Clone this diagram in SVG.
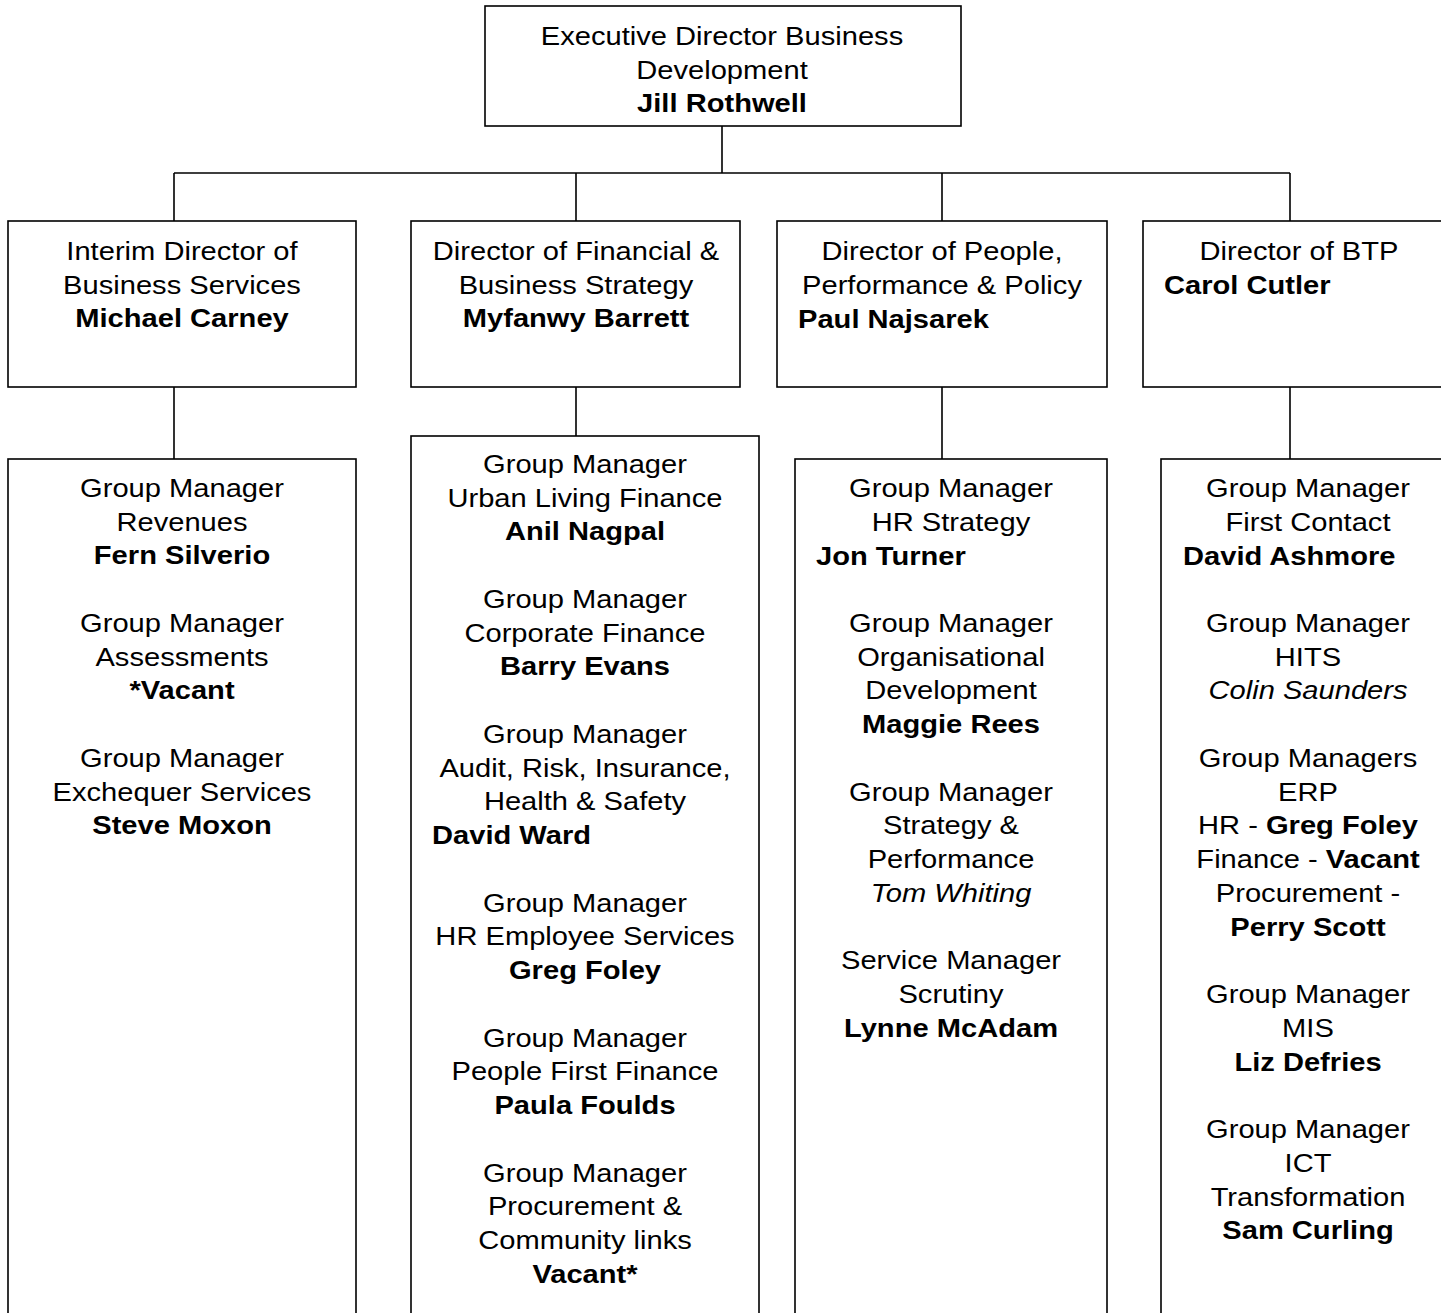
<svg xmlns="http://www.w3.org/2000/svg" width="1441" height="1313" viewBox="0 0 1441 1313">
<style>
.box{fill:#fff;stroke:#000;stroke-width:1.6}
.ln{fill:none;stroke:#000;stroke-width:1.6}
text{font-family:"Liberation Sans",Arial,sans-serif;font-size:26px;fill:#000}
.c{text-anchor:middle}
.b{font-weight:bold}
.i{font-style:italic}
</style>
<rect width="1441" height="1313" fill="#fff"/>
<g id="connectors">
<path class="ln" d="M722 126V173M174 173H1290M174 173V221M576 173V221M942 173V221M1290 173V221"/>
<path class="ln" d="M174 387V459M576 387V436M942 387V459M1290 387V459"/>
</g>
<g id="exec">
<rect class="box" x="485" y="6" width="476" height="120"/>
<text class="c" transform="translate(722 45) scale(1.12 1)"><tspan x="0">Executive Director Business</tspan><tspan x="0" dy="33.75">Development</tspan><tspan x="0" dy="33.75" class="b">Jill Rothwell</tspan></text>
</g>
<g id="dir-business-services">
<rect class="box" x="8" y="221" width="348" height="166"/>
<text class="c" transform="translate(182 260) scale(1.12 1)"><tspan x="0">Interim Director of</tspan><tspan x="0" dy="33.75">Business Services</tspan><tspan x="0" dy="33.75" class="b">Michael Carney</tspan></text>
</g>
<g id="dir-finance">
<rect class="box" x="411" y="221" width="329" height="166"/>
<text class="c" transform="translate(576 260) scale(1.12 1)"><tspan x="0">Director of Financial &amp;</tspan><tspan x="0" dy="33.75">Business Strategy</tspan><tspan x="0" dy="33.75" class="b">Myfanwy Barrett</tspan></text>
</g>
<g id="dir-people">
<rect class="box" x="777" y="221" width="330" height="166"/>
<text class="c" transform="translate(942 260) scale(1.12 1)"><tspan x="0">Director of People,</tspan><tspan x="0" dy="33.75">Performance &amp; Policy</tspan></text>
<text class="b" transform="translate(798 327.5) scale(1.12 1)">Paul Najsarek</text>
</g>
<g id="dir-btp">
<rect class="box" x="1143" y="221" width="320" height="166"/>
<text class="c" transform="translate(1299 260) scale(1.12 1)">Director of BTP</text>
<text class="b" transform="translate(1164 294) scale(1.12 1)">Carol Cutler</text>
</g>
<g id="team-business-services">
<rect class="box" x="8" y="459" width="348" height="880"/>
<text class="c" transform="translate(182 497) scale(1.12 1)"><tspan x="0">Group Manager</tspan><tspan x="0" dy="33.75">Revenues</tspan><tspan x="0" dy="33.75" class="b">Fern Silverio</tspan><tspan x="0" dy="67.5">Group Manager</tspan><tspan x="0" dy="33.75">Assessments</tspan><tspan x="0" dy="33.75" class="b">*Vacant</tspan><tspan x="0" dy="67.5">Group Manager</tspan><tspan x="0" dy="33.75">Exchequer Services</tspan><tspan x="0" dy="33.75" class="b">Steve Moxon</tspan></text>
</g>
<g id="team-finance">
<rect class="box" x="411" y="436" width="348" height="900"/>
<text class="c" transform="translate(585 473) scale(1.12 1)"><tspan x="0">Group Manager</tspan><tspan x="0" dy="33.75">Urban Living Finance</tspan><tspan x="0" dy="33.75" class="b">Anil Nagpal</tspan><tspan x="0" dy="67.5">Group Manager</tspan><tspan x="0" dy="33.75">Corporate Finance</tspan><tspan x="0" dy="33.75" class="b">Barry Evans</tspan><tspan x="0" dy="67.5">Group Manager</tspan><tspan x="0" dy="33.75">Audit, Risk, Insurance,</tspan><tspan x="0" dy="33.75">Health &amp; Safety</tspan><tspan x="0" dy="101.25">Group Manager</tspan><tspan x="0" dy="33.75">HR Employee Services</tspan><tspan x="0" dy="33.75" class="b">Greg Foley</tspan><tspan x="0" dy="67.5">Group Manager</tspan><tspan x="0" dy="33.75">People First Finance</tspan><tspan x="0" dy="33.75" class="b">Paula Foulds</tspan><tspan x="0" dy="67.5">Group Manager</tspan><tspan x="0" dy="33.75">Procurement &amp;</tspan><tspan x="0" dy="33.75">Community links</tspan><tspan x="0" dy="33.75" class="b">Vacant*</tspan></text>
<text class="b" transform="translate(432 844.25) scale(1.12 1)">David Ward</text>
</g>
<g id="team-people">
<rect class="box" x="795" y="459" width="312" height="880"/>
<text class="c" transform="translate(951 497) scale(1.12 1)"><tspan x="0">Group Manager</tspan><tspan x="0" dy="33.75">HR Strategy</tspan><tspan x="0" dy="101.25">Group Manager</tspan><tspan x="0" dy="33.75">Organisational</tspan><tspan x="0" dy="33.75">Development</tspan><tspan x="0" dy="33.75" class="b">Maggie Rees</tspan><tspan x="0" dy="67.5">Group Manager</tspan><tspan x="0" dy="33.75">Strategy &amp;</tspan><tspan x="0" dy="33.75">Performance</tspan><tspan x="0" dy="33.75" class="i">Tom Whiting</tspan><tspan x="0" dy="67.5">Service Manager</tspan><tspan x="0" dy="33.75">Scrutiny</tspan><tspan x="0" dy="33.75" class="b">Lynne McAdam</tspan></text>
<text class="b" transform="translate(816 564.5) scale(1.12 1)">Jon Turner</text>
</g>
<g id="team-btp">
<rect class="box" x="1161" y="459" width="320" height="880"/>
<text class="c" transform="translate(1308 497) scale(1.12 1)"><tspan x="0">Group Manager</tspan><tspan x="0" dy="33.75">First Contact</tspan><tspan x="0" dy="101.25">Group Manager</tspan><tspan x="0" dy="33.75">HITS</tspan><tspan x="0" dy="33.75" class="i">Colin Saunders</tspan><tspan x="0" dy="67.5">Group Managers</tspan><tspan x="0" dy="33.75">ERP</tspan><tspan x="0" dy="33.75">HR - <tspan class="b">Greg Foley</tspan></tspan><tspan x="0" dy="33.75">Finance - <tspan class="b">Vacant</tspan></tspan><tspan x="0" dy="33.75">Procurement -</tspan><tspan x="0" dy="33.75" class="b">Perry Scott</tspan><tspan x="0" dy="67.5">Group Manager</tspan><tspan x="0" dy="33.75">MIS</tspan><tspan x="0" dy="33.75" class="b">Liz Defries</tspan><tspan x="0" dy="67.5">Group Manager</tspan><tspan x="0" dy="33.75">ICT</tspan><tspan x="0" dy="33.75">Transformation</tspan><tspan x="0" dy="33.75" class="b">Sam Curling</tspan></text>
<text class="b" transform="translate(1183 564.5) scale(1.12 1)">David Ashmore</text>
</g>
</svg>
